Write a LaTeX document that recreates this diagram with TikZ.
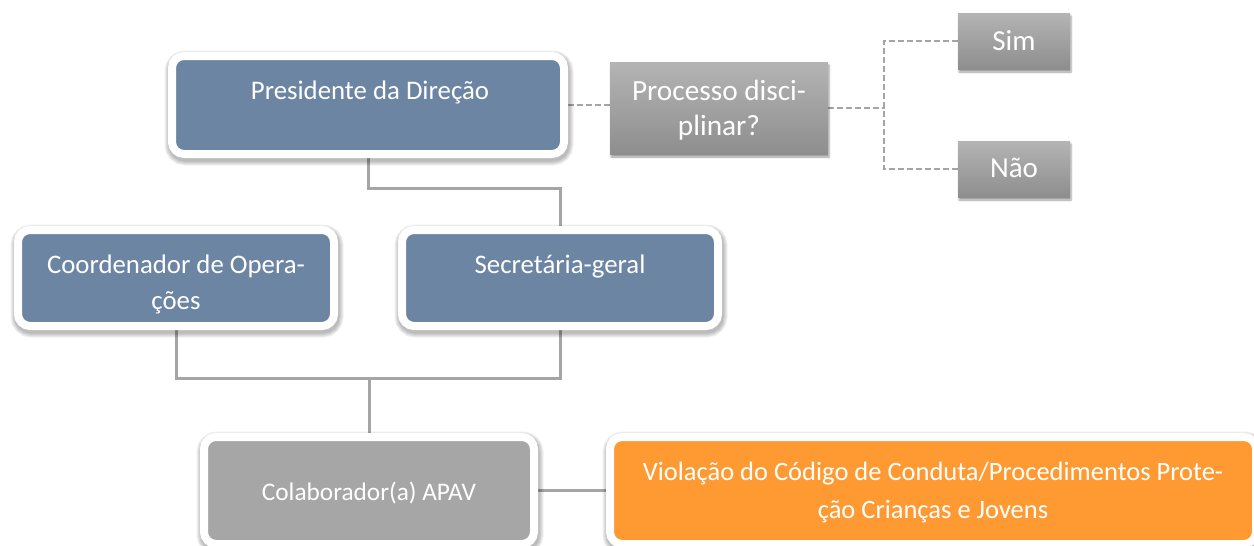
\documentclass[tikz,border=0pt]{standalone}
\usepackage{fontspec}
\setmainfont{Carlito}
\usetikzlibrary{shadows.blur,backgrounds}
\definecolor{boxblue}{RGB}{108,133,163}
\definecolor{boxgray}{RGB}{166,166,166}
\definecolor{boxorange}{RGB}{255,154,51}
\definecolor{linegray}{RGB}{165,165,165}
\definecolor{gtop}{RGB}{180,180,180}
\definecolor{gbot}{RGB}{142,142,142}
\tikzset{
  x=1pt,y=1pt,
  shlayer/.style={preaction={draw=black,draw opacity=0.06,fill=none,line width=#1,
    transform canvas={xshift=1pt,yshift=-3pt}}},
  framedbox/.style={draw=white,line width=8pt,rounded corners=12pt,
    shlayer=9pt,shlayer=11pt,shlayer=13pt,shlayer=15pt,shlayer=17pt,
    inner sep=0pt,minimum width=#1},
  gradbox/.style={top color=gtop,bottom color=gbot,draw=none,inner sep=0pt,
    blur shadow={shadow xshift=1pt,shadow yshift=-3pt,shadow blur radius=2pt,shadow opacity=40}},
  txt/.style={text=white,align=center,inner sep=0pt},
  conn/.style={draw=linegray,line width=3pt},
  dconn/.style={draw=linegray,line width=2.5pt,dash pattern=on 6pt off 3pt},
}
\begin{document}
\begin{tikzpicture}
\useasboundingbox (0,0) rectangle (1254,-546);
% boxes
\node[framedbox=392pt,fill=boxblue,minimum height=98pt] (pres) at (368,-105) {};
\node[txt,font=\fontsize{26.8}{32}\selectfont] (prest) at (370,-92) {Presidente da Direção};
\node[framedbox=316pt,fill=boxblue,minimum height=96pt] (coord) at (176,-278) {};
\node[txt,font=\fontsize{26.8}{36}\selectfont] (coordt) at (176,-284) {Coordenador de Opera-\\ções};
\node[framedbox=316pt,fill=boxblue,minimum height=96pt] (sec) at (560,-278) {};
\node[txt,font=\fontsize{26.8}{32}\selectfont] (sect) at (560,-266) {Secretária-geral};
\node[framedbox=330pt,fill=boxgray,minimum height=107pt] (colab) at (369,-490.5) {};
\node[txt,font=\fontsize{25.3}{32}\selectfont] (colabt) at (369,-493) {Colaborador(a) APAV};
\node[framedbox=646pt,fill=boxorange,minimum height=107pt] (viol) at (933,-490.5) {};
\node[txt,font=\fontsize{26.5}{38}\selectfont] (violt) at (933,-493) {Violação do Código de Conduta/Procedimentos Prote-\\ção Crianças e Jovens};
\node[gradbox,minimum width=218pt,minimum height=92pt] (proc) at (719,-108) {};
\node[txt,font=\fontsize{29.3}{35}\selectfont] (proct) at (719,-110) {Processo disci-\\plinar?};
\node[gradbox,minimum width=112pt,minimum height=56pt] (sim) at (1014,-41) {};
\node[txt,font=\fontsize{29}{35}\selectfont] (simt) at (1014,-41) {Sim};
\node[gradbox,minimum width=112pt,minimum height=56pt] (nao) at (1014,-169) {};
\node[txt,font=\fontsize{29}{35}\selectfont] (naot) at (1014,-168) {Não};
% junctions
\coordinate (j1) at (0,-188);
\coordinate (j2) at (0,-378);
\coordinate (j3) at (884,-108);
\begin{pgfonlayer}{background}
\draw[conn] (pres.south) |- (sec.north |- j1) -- (sec.north);
\draw[conn] (coord.south) |- (sec.south |- j2) -- (sec.south);
\draw[conn] (colab.north |- j2) -- (colab.north);
\draw[conn] (colab.east) -- (viol.west);
\draw[dconn] (pres.east) -- (pres.east -| proc.west);
\draw[dconn] (proc.east) -- (j3);
\draw[dconn] (sim.west) -| (j3) |- (nao.west);
\end{pgfonlayer}
\end{tikzpicture}
\end{document}
